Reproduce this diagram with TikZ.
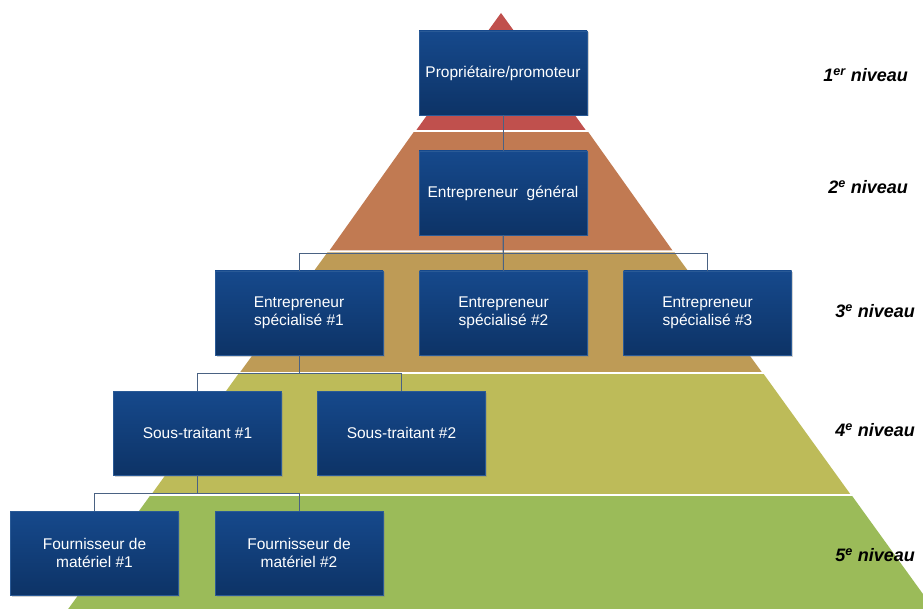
\documentclass[tikz,border=0pt]{standalone}
\usepackage{fontspec}
\setmainfont{Liberation Sans}
\usetikzlibrary{shadows}
\definecolor{lay1}{HTML}{C0504D}
\definecolor{lay2}{HTML}{C17A52}
\definecolor{lay3}{HTML}{BE9B56}
\definecolor{lay4}{HTML}{BDBB59}
\definecolor{lay5}{HTML}{9BBB59}
\definecolor{boxtop}{HTML}{16498C}
\definecolor{boxbot}{HTML}{0D3366}
\definecolor{boxedge}{HTML}{2A5A96}
\definecolor{conn}{HTML}{4A6283}
\tikzset{
  orgbox/.style={rectangle, minimum width=168pt, minimum height=84pt, inner sep=2pt,
    top color=boxtop, bottom color=boxbot, draw=boxedge, line width=0.4pt,
    text=white, align=center, font=\fontsize{15.5}{18.5}\selectfont,
    drop shadow={opacity=0.35, shadow xshift=1.5pt, shadow yshift=-1.5pt}},
  lvl/.style={anchor=east, font=\fontsize{18}{20}\selectfont\bfseries\itshape, text=black, inner sep=0pt},
  link/.style={draw=conn, line width=1pt}
}
\begin{document}
\begin{tikzpicture}[x=1pt,y=-1pt]
\useasboundingbox (0,0) rectangle (923,609);
\fill[white] (0,0) rectangle (923,609);
\begin{scope}
\clip (0,0) rectangle (923,609);
\fill[lay1] (501,13) -- (585.5,129.8) -- (416.5,129.8) -- cycle;
\fill[lay2] (413.6,132.2) -- (588.4,132.2) -- (672.5,250.5) -- (329.5,250.5) -- cycle;
\fill[lay3] (327.4,252.5) -- (674.6,252.5) -- (761.6,371.8) -- (240.4,371.8) -- cycle;
\fill[lay4] (238.2,374.2) -- (763.8,374.2) -- (850.1,493.8) -- (151.9,493.8) -- cycle;
\fill[lay5] (149.7,496.2) -- (852.3,496.2) -- (933.8,609) -- (68.2,609) -- cycle;
\end{scope}
% boxes
\node[orgbox] (P) at (503,73) {Propriétaire/promoteur};
\node[orgbox] (G) at (503,193) {Entrepreneur\ \ général};
\node[orgbox] (ES1) at (299,313) {Entrepreneur\\spécialisé \#1};
\node[orgbox] (ES2) at (503.5,313) {Entrepreneur\\spécialisé \#2};
\node[orgbox] (ES3) at (707.5,313) {Entrepreneur\\spécialisé \#3};
\node[orgbox] (ST1) at (197.5,433) {Sous-traitant \#1};
\node[orgbox] (ST2) at (401.5,433) {Sous-traitant \#2};
\node[orgbox] (F1) at (94.5,553) {Fournisseur de\\matériel \#1};
\node[orgbox] (F2) at (299,553) {Fournisseur de\\matériel \#2};
% connectors
\draw[link] (P.south) -- (G.north);
\draw[link] (G.south) -- (ES2.north);
\draw[link] (G.south) -- ++(0,18) -| (ES1.north);
\draw[link] (G.south) -- ++(0,18) -| (ES3.north);
\draw[link] (ES1.south) -- ++(0,18) -| (ST1.north);
\draw[link] (ES1.south) -- ++(0,18) -| (ST2.north);
\draw[link] (ST1.south) -- ++(0,18) -| (F1.north);
\draw[link] (ST1.south) -- ++(0,18) -| (F2.north);
% level labels
\node[lvl] (L1) at (908,75) {1\textsuperscript{er} niveau};
\node[lvl] (L2) at (908,187) {2\textsuperscript{e} niveau};
\node[lvl] (L3) at (915,311) {3\textsuperscript{e} niveau};
\node[lvl] (L4) at (915,430) {4\textsuperscript{e} niveau};
\node[lvl] (L5) at (915,555) {5\textsuperscript{e} niveau};
\end{tikzpicture}
\end{document}
